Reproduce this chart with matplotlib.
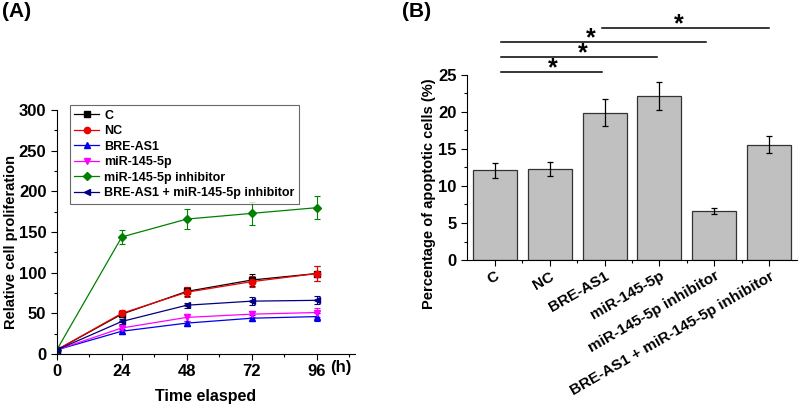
import numpy as np
import matplotlib.pyplot as plt
from matplotlib.ticker import MultipleLocator

plt.rcParams['font.family'] = ['Liberation Sans', 'DejaVu Sans']
plt.rcParams['font.weight'] = 'bold'

# Panel A: Proliferation
hours = [0, 24, 48, 72, 96]
groups = ['C', 'NC', 'BRE-AS1', 'miR-145-5p', 'miR-145-5p inhibitor',
          'BRE-AS1 + miR-145-5p inhibitor']
prolif = [
    [5, 49, 77, 91, 99],
    [5, 50, 76, 89, 99],
    [5, 28, 38, 44, 46],
    [5, 32, 45, 49, 51],
    [5, 144, 166, 173, 180],
    [5, 40, 60, 65, 66],
]
prolif_err = [
    [1, 4, 6, 7, 9],
    [1, 4, 6, 7, 9],
    [1, 3, 3, 4, 5],
    [1, 3, 4, 4, 5],
    [1, 9, 12, 14, 14],
    [1, 3, 3, 5, 5],
]
colors = ['black', '#ee0000', '#0000ee', '#ff00ff', '#008000', '#000080']
markers = ['s', 'o', '^', 'v', 'D', '<']

# Panel B: Apoptosis
bar_labels = ['C', 'NC', 'BRE-AS1', 'miR-145-5p', 'miR-145-5p inhibitor',
              'BRE-AS1 + miR-145-5p inhibitor']
apop = [12.1, 12.3, 19.9, 22.1, 6.6, 15.6]
apop_err = [1.0, 1.0, 1.8, 1.9, 0.45, 1.1]
# (start, end, line height, star x, star y)
sig = [(0.12, 1.95, 25.4, 1.05, 25.9),
       (0.12, 2.95, 27.4, 1.6, 27.9),
       (0.12, 3.85, 29.5, 1.75, 30.0),
       (1.95, 5.0, 31.3, 3.35, 31.8)]

fig = plt.figure(figsize=(8, 4.05), dpi=100)

# ---------- (A) ----------
ax1 = fig.add_axes([0.071, 0.126, 0.3725, 0.602])
handles = []
for i in range(len(groups)):
    c = ax1.errorbar(hours, prolif[i], yerr=prolif_err[i], color=colors[i],
                     marker=markers[i], markersize=4.5, linewidth=0.9,
                     elinewidth=0.8, capsize=2, capthick=0.8, label=groups[i])
    handles.append(c[0])
ax1.set_xlim(0, 110)
ax1.set_ylim(0, 300)
ax1.xaxis.set_major_locator(MultipleLocator(24))
ax1.xaxis.set_minor_locator(MultipleLocator(12))
ax1.yaxis.set_major_locator(MultipleLocator(50))
ax1.yaxis.set_minor_locator(MultipleLocator(25))
ax1.spines['top'].set_visible(False)
ax1.spines['right'].set_visible(False)
ax1.tick_params(direction='out', labelsize=12, length=4, width=0.8)
ax1.tick_params(which='minor', direction='out', length=2.5, width=0.8)
ax1.set_xlabel('Time elasped', fontsize=11.5, fontweight='bold', labelpad=7)
ax1.set_ylabel('Relative cell proliferation', fontsize=10.5,
               fontweight='bold')
ax1.yaxis.set_label_coords(-0.13, 0.46)
ax1.text(101, -8, '(h)', fontsize=12, fontweight='bold', va='top', ha='left')
leg = ax1.legend(handles=handles, labels=groups, loc='upper left',
                 bbox_to_anchor=(0.023, 1.045), frameon=True, fancybox=False,
                 handlelength=2.0, handletextpad=0.4, labelspacing=0.28,
                 borderpad=0.35, prop={'weight': 'bold', 'size': 9})
leg.get_frame().set_edgecolor('#444444')
leg.get_frame().set_linewidth(0.8)
fig.text(0.003, 0.995, '(A)', fontsize=15, fontweight='bold', va='top')

# ---------- (B) ----------
ax2 = fig.add_axes([0.584, 0.358, 0.412, 0.457])
x = np.arange(len(bar_labels))
ax2.bar(x, apop, width=0.8, color='#c0c0c0', edgecolor='#333333',
        linewidth=0.9, yerr=apop_err, capsize=2.5,
        error_kw={'elinewidth': 0.9, 'capthick': 0.9})
ax2.set_xlim(-0.5, 5.5)
ax2.set_ylim(0, 25)
ax2.yaxis.set_major_locator(MultipleLocator(5))
ax2.yaxis.set_minor_locator(MultipleLocator(2.5))
ax2.spines['top'].set_visible(False)
ax2.spines['right'].set_visible(False)
ax2.tick_params(direction='out', length=4, width=0.8)
ax2.tick_params(which='minor', direction='out', length=2.5, width=0.8)
ax2.tick_params(axis='y', labelsize=12)
ax2.tick_params(axis='x', pad=2.5)
ax2.set_xticks(x)
ax2.set_xticks(x[:-1] + 0.5, minor=True)
ax2.set_xticklabels(bar_labels, rotation=30, ha='right',
                    rotation_mode='anchor', fontsize=11, fontweight='bold')
ax2.set_ylabel('Percentage of apoptotic cells (%)', fontsize=10.5,
               fontweight='bold')
ax2.yaxis.set_label_coords(-0.095, 0.36)
for x0, x1, h, sx, sy in sig:
    ax2.plot([x0, x1], [h, h], color='black', linewidth=1.1, clip_on=False)
    ax2.text(sx, sy, '*', fontsize=18, fontweight='bold', ha='center',
             va='center')
fig.text(0.503, 0.995, '(B)', fontsize=15, fontweight='bold', va='top')

fig.savefig('out.png', dpi=100)
